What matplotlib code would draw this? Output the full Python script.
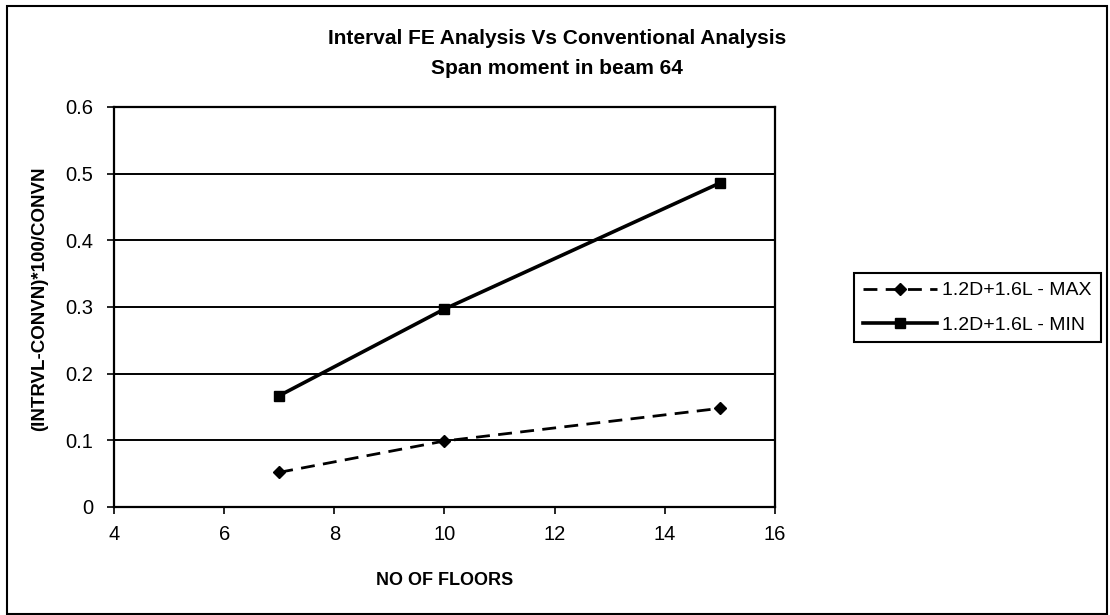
"""Interval FE vs conventional analysis: span moment in beam 64."""

import matplotlib
matplotlib.use("Agg")
import matplotlib.pyplot as plt
from matplotlib.patches import Rectangle

plt.rcParams["font.family"] = ["Liberation Sans", "DejaVu Sans"]

# données
floors = [7, 10, 15]
dev_max = [0.052, 0.099, 0.148]
dev_min = [0.167, 0.297, 0.486]
x_ticks = [4, 6, 8, 10, 12, 14, 16]
y_ticks = [0, 0.1, 0.2, 0.3, 0.4, 0.5, 0.6]
y_ticklabels = ["0", "0.1", "0.2", "0.3", "0.4", "0.5", "0.6"]

W, H = 1110, 615
fig = plt.figure(figsize=(W / 100, H / 100), dpi=100)
ax = fig.add_axes([114 / W, 1 - 507 / H, (775 - 114) / W, (507 - 107) / H])

# cadre extérieur du graphique
fig.patches.append(Rectangle((7 / W, 1 / H), 1100 / W, 608 / H, transform=fig.transFigure,
                             fill=False, edgecolor="black", lw=1.5))

ax.plot(floors, dev_max, color="black", lw=2, dashes=(5, 3), marker="D", ms=6.5,
        label="1.2D+1.6L - MAX", zorder=3)
ax.plot(floors, dev_min, color="black", lw=2.6, marker="s", ms=7.5,
        label="1.2D+1.6L - MIN", zorder=3)

ax.set_xlim(4, 16)
ax.set_ylim(0, 0.6)
ax.set_xticks(x_ticks)
ax.set_yticks(y_ticks)
ax.set_yticklabels(y_ticklabels)
ax.yaxis.grid(True, color="black", lw=1.4)
ax.set_axisbelow(True)
for s in ax.spines.values():
    s.set_linewidth(1.6)
ax.tick_params(direction="out", length=5, width=1.2, labelsize=14.5, pad=8)
ax.tick_params(axis="y", pad=10)

ax.set_xlabel("NO OF FLOORS", fontsize=13, fontweight="bold", labelpad=20)
ax.set_ylabel("(INTRVL-CONVN)*100/CONVN", fontsize=13.5, fontweight="bold", labelpad=12)
ax.yaxis.set_label_coords(-0.1, 0.52)

fig.text(557 / W, 1 - 38 / H, "Interval FE Analysis Vs Conventional Analysis",
         ha="center", va="center", fontsize=15, fontweight="bold")
fig.text(557 / W, 1 - 68 / H, "Span moment in beam 64",
         ha="center", va="center", fontsize=15, fontweight="bold")

leg = fig.legend(loc="upper left", bbox_to_anchor=(854 / W, 1 - 273 / H),
                 fontsize=14, frameon=True, fancybox=False, edgecolor="black",
                 framealpha=1, handlelength=3.8, borderaxespad=0, labelspacing=0.85,
                 handletextpad=0.3, borderpad=0.45)
leg.get_frame().set_linewidth(1.5)

fig.savefig("out.png", dpi=100)
